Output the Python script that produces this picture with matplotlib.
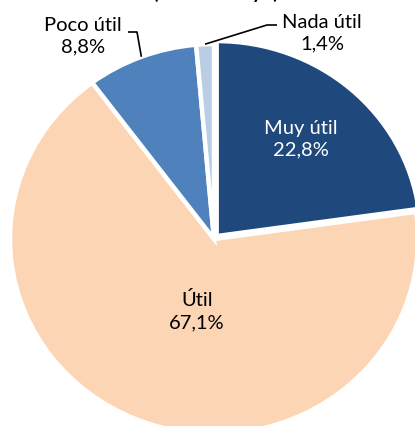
import numpy as np
import matplotlib
matplotlib.use("Agg")
import matplotlib.pyplot as plt

categories = ["Muy útil", "Útil", "Poco útil", "Nada útil"]
values = [22.8, 67.1, 8.8, 1.4]
value_labels = ["22,8%", "67,1%", "8,8%", "1,4%"]
colors = ["#1F497D", "#FCD5B5", "#4F81BD", "#B9CDE5"]
title = "(enero - mayo)"

W, H = 415, 426
CX, CY = 214, 239      # pie centre in pixels
SX, SY = 204, 195      # pixels per data unit

def d(px, py):
    return ((px - CX) / SX, (CY - py) / SY)

fig = plt.figure(figsize=(W / 100, H / 100), dpi=100)
ax = fig.add_axes([0, 0, 1, 1])
plt.rcParams['font.family'] = ['Lato', 'DejaVu Sans']

wedges, _ = ax.pie(values, colors=colors, startangle=90, counterclock=False,
                   explode=[0.02, 0, 0, 0],
                   wedgeprops=dict(edgecolor="white", linewidth=3.2))
ax.set_aspect('auto')
ax.set_xlim(-CX / SX, (W - CX) / SX)
ax.set_ylim(-(H - CY) / SY, CY / SY)
ax.axis('off')

fs = 14.5
ls = 1.35
# inside labels
x, y = d(301, 139)
ax.text(x, y, f"{categories[0]}\n{value_labels[0]}", color="white", fontsize=fs,
        ha="center", va="center", linespacing=ls)
x, y = d(197, 311)
ax.text(x, y, f"{categories[1]}\n{value_labels[1]}", color="black", fontsize=fs,
        ha="center", va="center", linespacing=ls)

# outside labels with leader lines
def arc_point(w):
    mid = np.deg2rad((w.theta1 + w.theta2) / 2)
    return np.cos(mid) + w.center[0], np.sin(mid) + w.center[1]

x, y = d(83, 36)
ax.text(x, y, f"{categories[2]}\n{value_labels[2]}", color="black", fontsize=fs,
        ha="center", va="center", linespacing=ls)
p0 = d(128, 32); p1 = d(137, 32); p2 = arc_point(wedges[2])
ax.plot([p0[0], p1[0], p2[0]], [p0[1], p1[1], p2[1]], color="black", lw=1.2,
        solid_capstyle="butt")

x, y = d(322, 33)
ax.text(x, y, f"{categories[3]}\n{value_labels[3]}", color="black", fontsize=fs,
        ha="center", va="center", linespacing=ls)
p0 = d(277, 25); p1 = d(267, 25); p2 = arc_point(wedges[3])
ax.plot([p0[0], p1[0], p2[0]], [p0[1], p1[1], p2[1]], color="black", lw=1.2,
        solid_capstyle="butt")

# title (mostly cut off at the top, as in the reference)
x, y = d(216, -1)
ax.text(x, y, title, fontsize=14, fontweight="bold", ha="center", va="baseline",
        color="black", clip_on=False)

fig.savefig("out.png", dpi=100)
